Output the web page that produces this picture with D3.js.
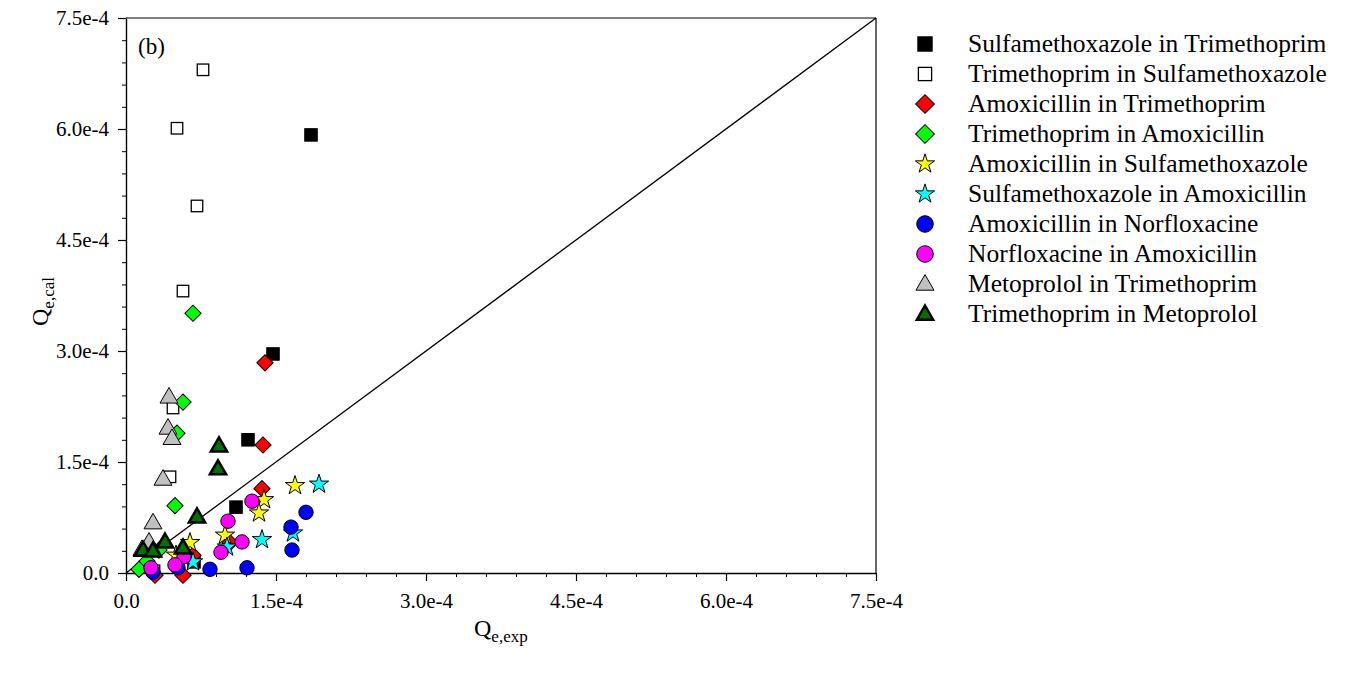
<!DOCTYPE html>
<html>
<head>
<meta charset="utf-8">
<script src="https://cdn.jsdelivr.net/npm/d3@7"></script>
<style>
  html, body { margin: 0; padding: 0; background: #fff; }
  svg { display: block; font-family: "Liberation Serif", "Times New Roman", serif; }
</style>
</head>
<body>
<svg id="chart" width="1349" height="675"></svg>
<script>
// ---- Data (values in units of 1e-6, converted below) ----
const seriesNames = [
  "Sulfamethoxazole in Trimethoprim",
  "Trimethoprim in Sulfamethoxazole",
  "Amoxicillin in Trimethoprim",
  "Trimethoprim in Amoxicillin",
  "Amoxicillin in Sulfamethoxazole",
  "Sulfamethoxazole in Amoxicillin",
  "Amoxicillin in Norfloxacine",
  "Norfloxacine in Amoxicillin",
  "Metoprolol in Trimethoprim",
  "Trimethoprim in Metoprolol"
];
const smtInTmpExp = [185, 147, 122, 110, 68];
const smtInTmpCal = [592, 296, 180, 89, 15];
const tmpInSmtExp = [77, 51, 71, 57, 47, 44, 28];
const tmpInSmtCal = [680, 601, 496, 381, 223, 130, 3];
const amxInTmpExp = [139, 137, 136, 104, 67, 57, 29];
const amxInTmpCal = [284, 173, 114, 41, 24, -3, -3];
const tmpInAmxExp = [67, 57, 51, 49, 33, 21, 13];
const tmpInAmxCal = [351, 231, 189, 91, 31, 16, 5];
const amxInSmtExp = [169, 138, 133, 99, 64, 50];
const amxInSmtCal = [118, 99, 81, 51, 41, 24];
const smtInAmxExp = [193, 167, 136, 101, 67];
const smtInAmxCal = [120, 54, 45, 35, 15];
const amxInNorExp = [180, 165, 166, 121, 84, 52, 27];
const amxInNorCal = [82, 62, 31, 7, 5, 7, 1];
const norInAmxExp = [126, 102, 116, 95, 58, 49, 25];
const norInAmxCal = [97, 70, 42, 28, 22, 11, 7];
const metInTmpExp = [43, 42, 46, 37, 27, 23, 16];
const metInTmpCal = [238, 196, 182, 127, 68, 42, 32];
const tmpInMetExp = [93, 92, 71, 39, 57, 17, 27];
const tmpInMetCal = [172, 141, 76, 42, 34, 31, 30];

const xTickValues = [0, 1.5e-4, 3.0e-4, 4.5e-4, 6.0e-4, 7.5e-4];
const yTickValues = [0, 1.5e-4, 3.0e-4, 4.5e-4, 6.0e-4, 7.5e-4];
const minorStep = 3e-5;
const unit = 1e-6;

// ---- Styles ----
const styles = [
  {shape: "square", fill: "#000000", stroke: "#000", sw: 1, size: 12.5},
  {shape: "square", fill: "#ffffff", stroke: "#000", sw: 1.3, size: 11.5},
  {shape: "diamond", fill: "#ff0000", stroke: "#000", sw: 1, size: 11.5},
  {shape: "diamond", fill: "#00ff00", stroke: "#000", sw: 1, size: 11.5},
  {shape: "star", fill: "#ffff00", stroke: "#000", sw: 1, size: 115},
  {shape: "star", fill: "#00ffff", stroke: "#000", sw: 1, size: 115},
  {shape: "circle", fill: "#0000ff", stroke: "#000", sw: 1, size: 7.2},
  {shape: "circle", fill: "#ff00ff", stroke: "#000", sw: 1, size: 7.2},
  {shape: "triangle", fill: "#c0c0c0", stroke: "#000", sw: 1, size: 140},
  {shape: "triangle", fill: "#007000", stroke: "#000", sw: 2.5, size: 115}
];

const seriesData = [
  [smtInTmpExp, smtInTmpCal], [tmpInSmtExp, tmpInSmtCal],
  [amxInTmpExp, amxInTmpCal], [tmpInAmxExp, tmpInAmxCal],
  [amxInSmtExp, amxInSmtCal], [smtInAmxExp, smtInAmxCal],
  [amxInNorExp, amxInNorCal], [norInAmxExp, norInAmxCal],
  [metInTmpExp, metInTmpCal], [tmpInMetExp, tmpInMetCal]
].map(([xs, ys]) => xs.map((v, i) => ({x: v * unit, y: ys[i] * unit})));

const svg = d3.select("#chart");
const L = 126, R = 876, T = 18, B = 573;
const x = d3.scaleLinear().domain([0, 7.5e-4]).range([L, R]);
const y = d3.scaleLinear().domain([0, 7.5e-4]).range([B, T]);

const fmt = v => v === 0 ? "0.0" : d3.format(".1e")(v);
const minorVals = d3.range(0, 7.5e-4 + 1e-9, minorStep);

// frame
svg.append("line").attr("x1", L).attr("x2", R).attr("y1", T).attr("y2", T).attr("stroke", "#000").attr("stroke-width", 1.2);
svg.append("line").attr("x1", R).attr("x2", R).attr("y1", T).attr("y2", B).attr("stroke", "#000").attr("stroke-width", 1.2);

// minor ticks
svg.append("g").attr("transform", `translate(0,${B})`)
  .call(d3.axisBottom(x).tickValues(minorVals).tickSize(4).tickFormat(""))
  .call(g => g.select(".domain").remove());
svg.append("g").attr("transform", `translate(${L},0)`)
  .call(d3.axisLeft(y).tickValues(minorVals).tickSize(4).tickFormat(""))
  .call(g => g.select(".domain").remove());

// major axes
const xAxis = svg.append("g").attr("transform", `translate(0,${B})`)
  .call(d3.axisBottom(x).tickValues(xTickValues).tickSize(8).tickSizeOuter(0).tickPadding(12).tickFormat(fmt));
const yAxis = svg.append("g").attr("transform", `translate(${L},0)`)
  .call(d3.axisLeft(y).tickValues(yTickValues).tickSize(8).tickSizeOuter(0).tickPadding(9).tickFormat(fmt));
[xAxis, yAxis].forEach(g => {
  g.attr("font-family", "Liberation Serif").attr("font-size", 21);
  g.selectAll("text").attr("font-family", "Liberation Serif").attr("font-size", 21).attr("fill", "#000");
  g.selectAll("line").attr("stroke", "#000").attr("stroke-width", 1.2);
  g.select(".domain").attr("stroke", "#000").attr("stroke-width", 1.4);
});
svg.selectAll("g line").attr("stroke", "#000");

// 1:1 line
svg.append("line")
  .attr("x1", x(0)).attr("y1", y(0)).attr("x2", x(7.5e-4)).attr("y2", y(7.5e-4))
  .attr("stroke", "#000").attr("stroke-width", 1.3);

// markers
function drawMarker(g, st, cx, cy, scale) {
  scale = scale || 1;
  if (st.shape === "square") {
    const s = st.size * scale;
    g.append("rect").attr("x", cx - s / 2).attr("y", cy - s / 2).attr("width", s).attr("height", s)
      .attr("fill", st.fill).attr("stroke", st.stroke).attr("stroke-width", st.sw);
  } else if (st.shape === "diamond") {
    const s = st.size * scale;
    g.append("rect").attr("x", -s / 2).attr("y", -s / 2).attr("width", s).attr("height", s)
      .attr("transform", `translate(${cx},${cy}) rotate(45)`)
      .attr("fill", st.fill).attr("stroke", st.stroke).attr("stroke-width", st.sw);
  } else if (st.shape === "circle") {
    g.append("circle").attr("cx", cx).attr("cy", cy).attr("r", st.size * scale)
      .attr("fill", st.fill).attr("stroke", st.stroke).attr("stroke-width", st.sw);
  } else {
    const sym = st.shape === "star" ? d3.symbolStar : d3.symbolTriangle;
    g.append("path").attr("d", d3.symbol(sym, st.size * scale * scale)())
      .attr("transform", `translate(${cx},${cy + (st.shape === "triangle" ? 1 : 0)})`)
      .attr("fill", st.fill).attr("stroke", st.stroke).attr("stroke-width", st.sw)
      .attr("stroke-linejoin", "miter");
  }
}

const pts = svg.append("g");
seriesData.forEach((data, i) => {
  const g = pts.append("g");
  data.forEach(d => drawMarker(g, styles[i], x(d.x), y(d.y), 1));
});

// panel label
svg.append("text").attr("x", 138).attr("y", 54).attr("font-size", 23).text("(b)");

// axis titles
const xt = svg.append("text").attr("x", 474).attr("y", 636).attr("font-size", 24);
xt.append("tspan").text("Q");
xt.append("tspan").attr("font-size", 17).attr("dy", 6).text("e,exp");

const yt = svg.append("text").attr("transform", "translate(48,326) rotate(-90)").attr("font-size", 24);
yt.append("tspan").text("Q");
yt.append("tspan").attr("font-size", 17).attr("dy", 6).text("e,cal");

// legend
const leg = svg.append("g");
seriesNames.forEach((name, i) => {
  const cy = 44 + i * 30;
  drawMarker(leg, styles[i], 925, cy, styles[i].shape === "star" || styles[i].shape === "triangle" ? 1.0 : 1.15);
  leg.append("text").attr("x", 968).attr("y", cy + 8).attr("font-size", 25.5).text(name);
});
</script>
</body>
</html>
